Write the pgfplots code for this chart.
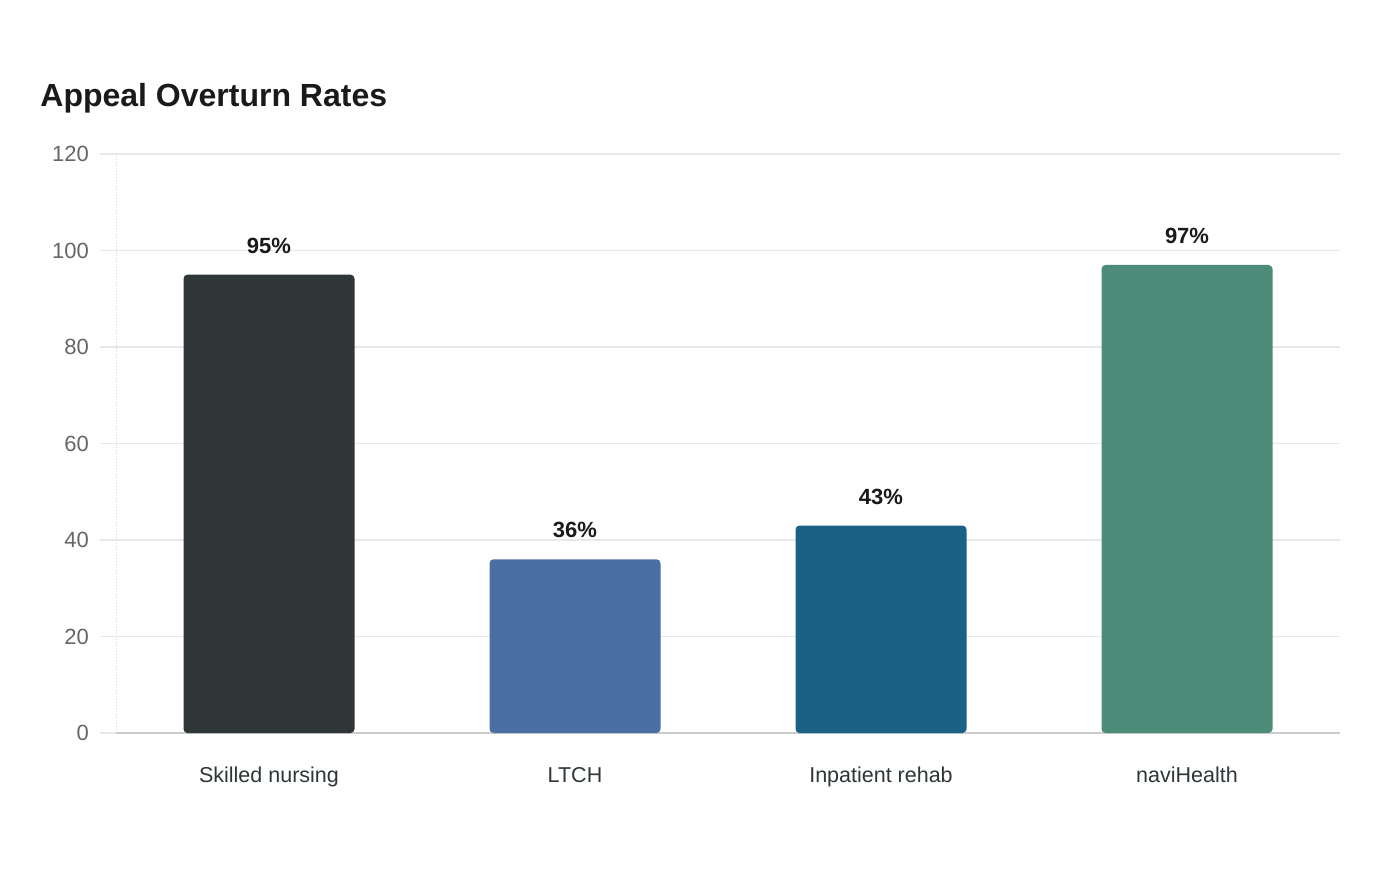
\documentclass[border=0pt]{standalone}
\usepackage{fontspec}
\setmainfont{Liberation Sans}
\usepackage{pgfplots}
\pgfplotsset{compat=1.18}
\definecolor{cA}{HTML}{2E3638}
\definecolor{cB}{HTML}{4A6FA5}
\definecolor{cC}{HTML}{1A6186}
\definecolor{cD}{HTML}{4E8C7A}
\definecolor{gridc}{HTML}{E8E8E8}
\definecolor{axc}{HTML}{CCCCCC}
\definecolor{tickc}{HTML}{666666}
\definecolor{titlec}{HTML}{1A1A1A}
\begin{document}
\begin{tikzpicture}[x=1pt,y=1pt]
\path[fill=white] (0,0) rectangle (700,440);
\node[anchor=base west, font=\bfseries\fontsize{16}{19}\selectfont, text=titlec, inner sep=0] at (20,386.5) {Appeal Overturn Rates};
\begin{axis}[
  at={(58pt,73.5pt)}, anchor=south west,
  scale only axis, width=612pt, height=289.5pt,
  xmin=-0.5, xmax=3.5, ymin=0, ymax=120,
  ybar, bar width=85.5pt, bar shift=0pt,
  xtick={0,1,2,3},
  xticklabels={Skilled nursing,LTCH,Inpatient rehab,naviHealth},
  ytick={0,20,40,60,80,100,120},
  /pgf/number format/assume math mode=true,
  axis x line*=bottom, axis y line*=left,
  axis line style={-},
  x axis line style={color=axc, line width=0.8pt},
  y axis line style={color=axc!80, densely dotted, line width=0.5pt},
  ymajorgrids, grid style={color=gridc, line width=0.7pt},
  xtick style={draw=none},
  ytick style={color=gridc, line width=0.7pt},
  tick align=outside, major tick length=8pt,
  yticklabel style={font=\fontsize{11}{13}\selectfont, text=tickc, xshift=-2pt},
  xticklabel style={font=\fontsize{10.75}{13}\selectfont, text=cA, yshift=-5.5pt},
  nodes near coords={\pgfmathprintnumber{\pgfplotspointmeta}\%},
  every node near coord/.append style={font=\bfseries\fontsize{11}{13}\selectfont, text=titlec, anchor=center, yshift=14.5pt},
  point meta=explicit,
]
\addplot[fill=cA, draw=none, rounded corners=2pt] coordinates {(0,95) [95]};
\addplot[fill=cB, draw=none, rounded corners=2pt] coordinates {(1,36) [36]};
\addplot[fill=cC, draw=none, rounded corners=2pt] coordinates {(2,43) [43]};
\addplot[fill=cD, draw=none, rounded corners=2pt] coordinates {(3,97) [97]};
\end{axis}
\end{tikzpicture}
\end{document}
